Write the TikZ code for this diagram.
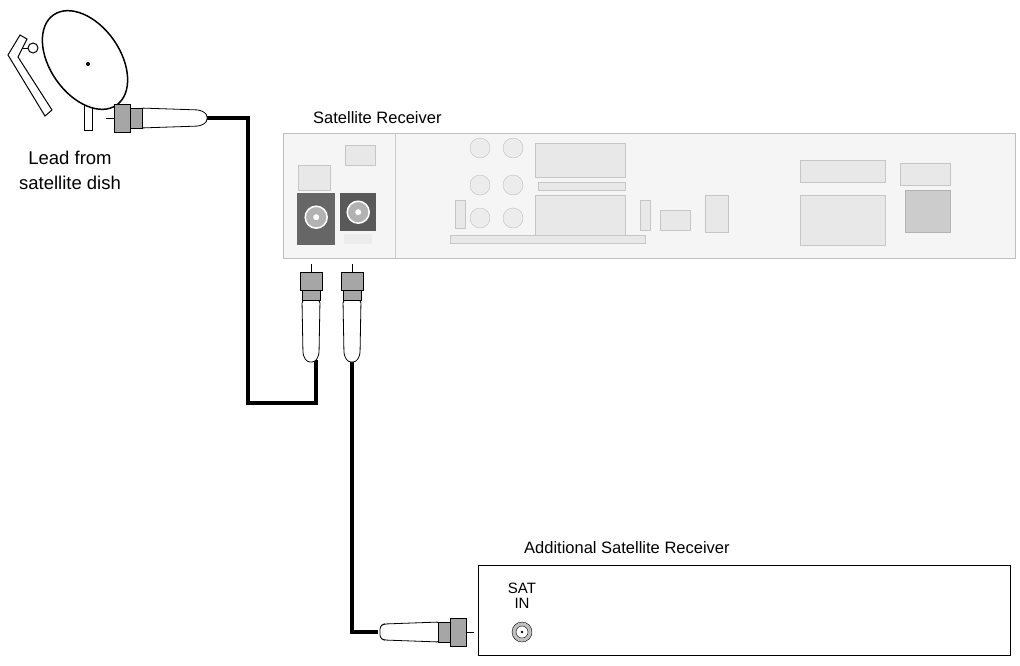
\documentclass[tikz,border=0pt]{standalone}
\usepackage{fontspec}
\setmainfont{Liberation Sans}
\begin{document}
\begin{tikzpicture}[x=1pt,y=-1pt,
  cable/.style={line width=4.5pt,black,line join=miter},
  plug/.style={draw=black,fill=white,line width=0.8pt},
  nut/.style={draw=black,fill=gray!70,line width=0.8pt},
  part/.style={draw=gray!45,fill=gray!18,line width=0.6pt},
  lbl/.style={font=\fontsize{16.5}{18}\selectfont,inner sep=0pt}]
\useasboundingbox (0,0) rectangle (1020,665);
% dish
\draw[line width=1pt,fill=white] (8,55) -- (20,35) -- (27,39) -- (18,57) -- (52,110) -- (45,116) -- cycle;
\draw[line width=1pt] (22,48) -- (30,48);
\draw[line width=1pt,fill=white] (33,48) circle (5);
\draw[line width=1pt,fill=white] (84,100) rectangle (92,130);
\draw[line width=1.5pt,fill=white,rotate around={-55:(85,60)}] (85,60) ellipse (55 and 35);
\fill (88,64) circle (2);
% receiver
\node[draw=gray!50,fill=gray!8,minimum width=732pt,minimum height=125pt,anchor=north west,inner sep=0] (rx) at (283,133) {};
\draw[gray!40] (395,133) -- (395,258);
\fill[part] (345,145) rectangle (375,165);
\fill[part] (298,165) rectangle (330,190);
\foreach \x in {480,513} \foreach \y in {148,185,218} \draw[gray!50,fill=gray!15] (\x,\y) circle (10);
\draw[part] (535,143) rectangle (625,177);
\draw[part] (535,195) rectangle (625,235);
\draw[part] (538,182) rectangle (625,190);
\draw[part] (455,200) rectangle (465,228);
\draw[part] (640,200) rectangle (650,230);
\draw[part] (660,210) rectangle (690,230);
\draw[part] (705,195) rectangle (728,232);
\draw[part] (800,160) rectangle (885,182);
\draw[part] (800,195) rectangle (885,245);
\draw[part] (900,163) rectangle (950,185);
\draw[draw=gray!60,fill=gray!40] (905,190) rectangle (950,232);
\draw[part] (450,235) rectangle (645,243);
% sockets
\node[fill=gray!80!black,minimum width=38pt,minimum height=52pt,anchor=north west,inner sep=0] (s1) at (297,193) {};
\draw[white,line width=1.5pt,fill=gray!60] (s1.center) ++(0,-2) circle (11);
\fill[white] (s1.center) ++(0,-2) circle (3);
\node[fill=gray!70!black,minimum width=36pt,minimum height=38pt,anchor=north west,inner sep=0] (s2) at (340,193) {};
\draw[white,line width=1.5pt,fill=gray!60] (s2.center) circle (11);
\fill[white] (s2.center) circle (3);
\node[fill=gray!15,minimum width=28pt,minimum height=10pt,anchor=north west,inner sep=0] at (344,234) {};
\node[lbl,anchor=south west] (rxl) at (313,124) {Satellite Receiver};
% additional receiver
\node[draw,line width=0.8pt,minimum width=532pt,minimum height=90pt,anchor=north west,inner sep=0] (ax) at (478,565) {};
\node[lbl,anchor=south west] (axl) at (524,554) {Additional Satellite Receiver};
\node[lbl,align=center,font=\fontsize{15}{15}\selectfont] (sat) at (522,596) {SAT\\IN};
\draw[fill=gray!50] (522,632) circle (10);
\draw[fill=white] (522,632) circle (6);
\fill (522,632) circle (1.3);
% cables
\coordinate (c1) at (205,118);
\coordinate (c2) at (316,360);
\coordinate (c3) at (352,360);
\coordinate (c4) at (378,632);
\draw[cable] (c1) -- (248,118) -- (248,403) -- (316,403) -- (c2);
\draw[cable] (c3) -- (352,632) -- (c4);
% dish plug (horizontal)
\draw[plug,rounded corners=3pt] (140,108) -- (200,110) -- (207,114) -- (207,122) -- (200,126) -- (140,128) -- cycle;
\draw[nut] (128,108) rectangle (142,128);
\draw[nut] (114,104) rectangle (130,132);
\draw (106,118) -- (114,118);
% top plugs (vertical)
\foreach \px in {311,352}{
  \draw[plug,rounded corners=3pt] (\px-9,300) -- (\px-8,355) -- (\px-4,362) -- (\px+4,362) -- (\px+8,355) -- (\px+9,300) -- cycle;
  \draw[nut] (\px-9,288) rectangle (\px+9,300);
  \draw[nut] (\px-11,272) rectangle (\px+11,290);
  \draw (\px,264) -- (\px,272);
}
% bottom plug
\draw[plug,rounded corners=3pt] (380,626) -- (384,624) -- (440,622) -- (440,642) -- (384,640) -- (380,638) -- cycle;
\draw[nut] (438,622) rectangle (452,642);
\draw[nut] (450,618) rectangle (466,646);
\draw (466,632) -- (474,632);
\node[lbl,align=center,font=\fontsize{18.5}{25}\selectfont] (lead) at (70,170) {Lead from\\satellite dish};
\end{tikzpicture}
\end{document}
